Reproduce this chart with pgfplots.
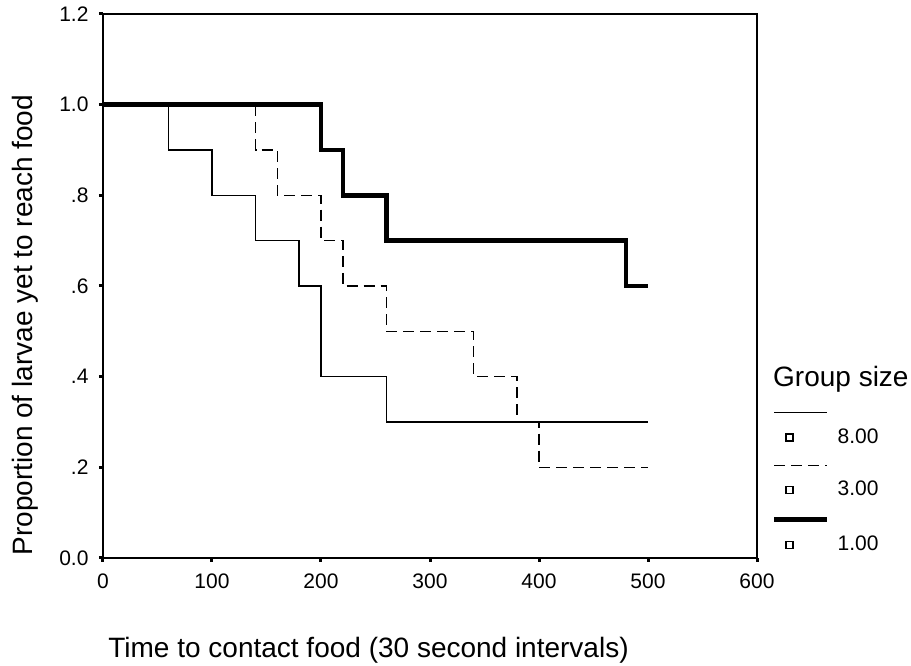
\documentclass[border=0pt]{standalone}
\usepackage{fontspec}
\setmainfont{Liberation Sans}
\usepackage{pgfplots}
\pgfplotsset{compat=1.18}

% Kaplan-Meier style step curves: proportion still searching vs. time
\begin{document}
\begin{tikzpicture}
\useasboundingbox (-103pt,-108pt) rectangle (808pt,558pt);
\begin{axis}[
  name=km,
  at={(0pt,0pt)}, anchor=south west,
  scale only axis, width=654pt, height=544pt,
  xmin=0, xmax=600, ymin=0, ymax=1.2,
  xtick={0,100,200,300,400,500,600},
  xticklabels={0,100,200,300,400,500,600},
  ytick={0,0.2,0.4,0.6,0.8,1.0,1.2},
  yticklabels={0.0,.2,.4,.6,.8,1.0,1.2},
  xtick pos=left, ytick pos=left,
  tick align=outside,
  major tick length=4pt,
  tick style={line width=3pt, black},
  axis line style={line width=1.5pt},
  ticklabel style={font=\fontsize{21}{25}\selectfont},
  xticklabel style={yshift=-8pt},
  yticklabel style={xshift=-7pt},
  xlabel={Time to contact food (30 second intervals)},
  xlabel style={at={([yshift=-92pt]rel axis cs:0.406,0)}, anchor=center,
    font=\fontsize{28}{32}\selectfont},
  ylabel={Proportion of larvae yet to reach food},
  ylabel style={at={([xshift=-78pt]rel axis cs:0,0.428)}, anchor=center,
    font=\fontsize{28}{32}\selectfont},
  legend style={at={([xshift=15pt,yshift=6pt]rel axis cs:1,0)}, anchor=south west,
    draw=none, fill=none, inner sep=0pt,
    font=\fontsize{21}{25}\selectfont,
    row sep=20pt,
    nodes={inner sep=0pt},
    /tikz/every odd column/.style={column sep=8pt}},
  legend cell align=left,
  legend image code/.code={
    \draw[#1] (0pt,24pt) -- (53pt,24pt);
    \draw[black, solid, line width=1.2pt] (11.5pt,-4.5pt) rectangle (18.5pt,2.5pt);
  },
]
% group size 8
\addplot[const plot, black, line width=1.5pt] coordinates {
  (0,1.0) (60,0.9) (100,0.8) (140,0.7) (180,0.6) (200,0.4) (260,0.3) (500,0.3)};
\addlegendentry{8.00}
% group size 3
\addplot[const plot, black, line width=1.5pt, dash pattern=on 11pt off 6pt] coordinates {
  (0,1.0) (140,0.9) (160,0.8) (200,0.7) (220,0.6) (260,0.5) (340,0.4) (380,0.3) (400,0.2) (500,0.2)};
\addlegendentry{3.00}
% single larvae
\addplot[const plot, black, line width=4.5pt] coordinates {
  (0,1.0) (200,0.9) (220,0.8) (260,0.7) (480,0.6) (500,0.6)};
\addlegendentry{1.00}
\end{axis}
\node[anchor=west, font=\fontsize{28}{32}\selectfont, inner sep=0pt]
  at ([xshift=16pt,yshift=178.5pt]km.south east) {Group size};
\end{tikzpicture}
\end{document}
